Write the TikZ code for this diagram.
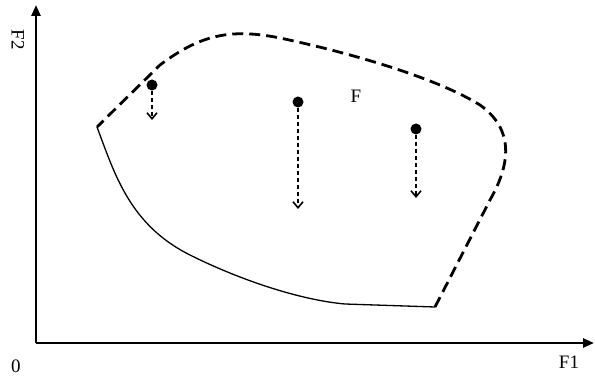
\documentclass[tikz,border=0pt]{standalone}
\usepackage{fontspec}
\setmainfont{Liberation Serif}
\usetikzlibrary{arrows.meta}
\begin{document}
\begin{tikzpicture}[x=1pt,y=-1pt,
  axis/.style={line width=2.6pt,-{Triangle[length=11pt,width=9pt]}},
  front/.style={line width=1.3pt},
  dfront/.style={line width=2.8pt,dash pattern=on 11pt off 6pt},
  dot/.style={circle,fill=black,inner sep=0pt,minimum size=11pt},
  move/.style={line width=1.6pt,dash pattern=on 4pt off 3pt,-{Straight Barb[length=6pt,width=10pt]}},
  lbl/.style={font=\fontsize{19}{22}\selectfont}]
\useasboundingbox (0,0) rectangle (595,377);
\coordinate (O) at (36,343);
\coordinate (ytop) at (36,5);
\coordinate (xend) at (594,343);
\draw[axis] (O) -- (ytop);
\draw[axis] (O) -- (xend);
\node[lbl,rotate=-90] (f2) at (18,40) {F2};
\node[lbl] (f1) at (569,362) {F1};
\node[lbl] (zero) at (16,366) {0};
\node[lbl] (F) at (356,96) {F};
\coordinate (A) at (97,127);
\coordinate (B) at (435,307);
\draw[front] (A) .. controls (115,175) and (130,225) .. (190,255)
  .. controls (240,280) and (300,300) .. (345,304) -- (B);
\draw[dfront] (B) -- (490,200) .. controls (510,165) and (515,130) .. (480,105)
  .. controls (440,80) and (360,55) .. (280,38)
  .. controls (230,28) and (200,35) .. (160,65) -- (A);
\node[dot] (d1) at (152,85) {};
\node[dot] (d2) at (298,102) {};
\node[dot] (d3) at (416,129) {};
\coordinate (e1) at (152,120);
\coordinate (e2) at (298,209);
\coordinate (e3) at (416,198);
\draw[move] (d1) -- (e1);
\draw[move] (d2) -- (e2);
\draw[move] (d3) -- (e3);
\end{tikzpicture}
\end{document}
